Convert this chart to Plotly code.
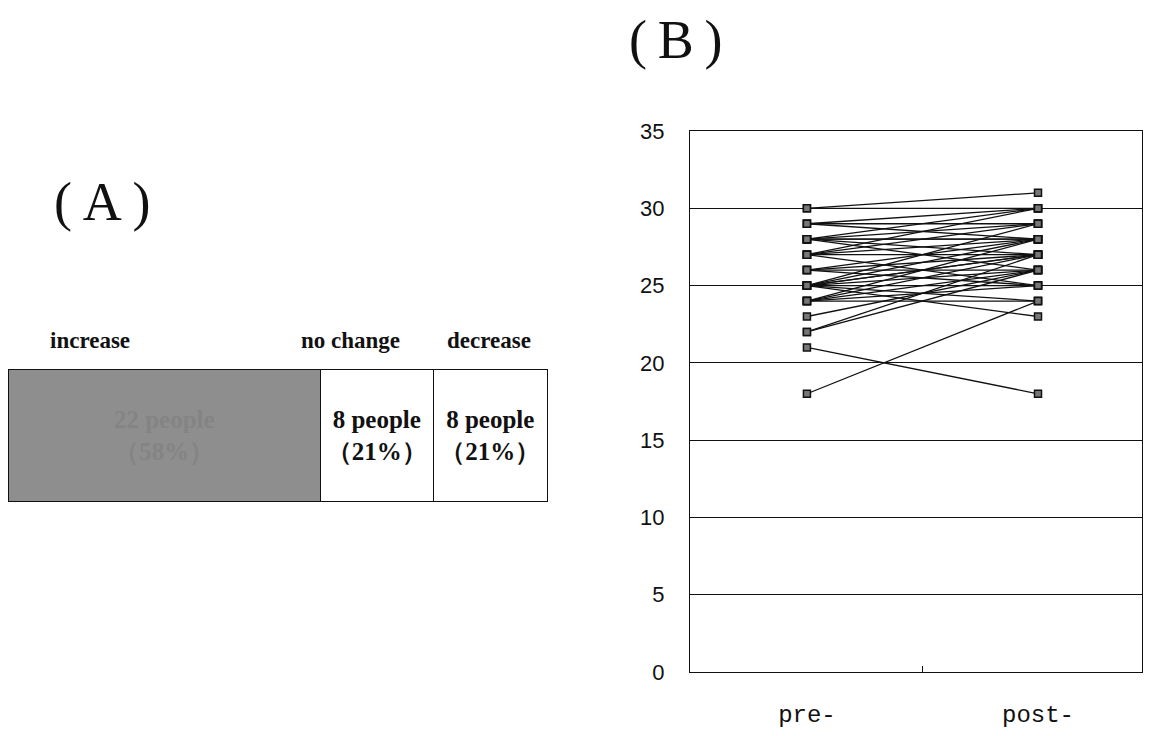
import plotly.graph_objects as go

# ---- Panel A data ----
groups = ["increase", "no change", "decrease"]
counts = [22, 8, 8]
percents = [58, 21, 21]

# ---- Panel B data (score per person, pre and post) ----
pre_scores = [30, 30, 29, 29, 29, 28, 28, 28, 28, 28, 28, 27, 27, 27, 27, 27,
              26, 26, 26, 25, 25, 25, 25, 25, 25, 25, 25, 24, 24, 24, 24, 24,
              23, 22, 22, 21, 18, 26]
post_scores = [31, 30, 30, 29, 28, 30, 29, 28, 27, 26, 28, 29, 28, 27, 25, 30,
               28, 27, 26, 27, 28, 26, 25, 23, 24, 29, 27, 26, 27, 25, 24, 28,
               26, 26, 27, 18, 24, 25]
time_labels = ["pre-", "post-"]
y_ticks = [0, 5, 10, 15, 20, 25, 30, 35]

W, H, OFF = 1156, 736, 8  # page body margin offset


def px_x(p):
    return min(1, max(0, (p - OFF) / W))


def px_y(p):
    return min(1, max(0, 1 - (p - OFF) / H))


fig = go.Figure()

# Panel A: stacked horizontal bar
fills = ["#8e8e8e", "#ffffff", "#ffffff"]
text_cols = ["#848484", "#111111", "#111111"]
for g, c, p, f, tc in zip(groups, counts, percents, fills, text_cols):
    fig.add_trace(go.Bar(
        x=[c], y=[0], orientation="h", width=1,
        marker=dict(color=f, line=dict(color="#111111", width=1.5)),
        text=[f"<b>{c} people<br>（{p}%）</b>"], textposition="inside",
        insidetextanchor="middle",
        textfont=dict(family="Liberation Serif", size=25, color=tc),
        xaxis="x2", yaxis="y2", showlegend=False, hoverinfo="skip", name=g,
    ))

# Panel B: paired lines
lx, ly = [], []
for a, b in zip(pre_scores, post_scores):
    lx += [0, 1, None]
    ly += [a, b, None]
fig.add_trace(go.Scatter(x=lx, y=ly, mode="lines",
                         line=dict(color="#111111", width=1.3),
                         showlegend=False, hoverinfo="skip"))
mx = [0] * len(pre_scores) + [1] * len(post_scores)
my = pre_scores + post_scores
fig.add_trace(go.Scatter(x=mx, y=my, mode="markers",
                         marker=dict(symbol="square", size=7, color="#777777",
                                     line=dict(color="#111111", width=1.5)),
                         showlegend=False, hoverinfo="skip"))

fig.update_layout(
    width=W, height=H,
    margin=dict(l=0, r=0, t=0, b=0, autoexpand=False),
    paper_bgcolor="white", plot_bgcolor="white",
    barmode="stack", bargap=0,
    xaxis=dict(domain=[px_x(690), px_x(1142)], range=[-0.506, 1.45],
               tickvals=[0, 1], ticktext=time_labels, ticks="",
               showgrid=False, zeroline=False, automargin=False,
               showline=True, linecolor="#111111", linewidth=1, mirror=True,
               tickfont=dict(family="Liberation Mono", size=24, color="#111111"),
               ticklabelstandoff=20,
               minor=dict(tickvals=[0.5], ticks="inside", ticklen=6,
                          tickcolor="#111111", showgrid=False)),
    yaxis=dict(domain=[px_y(672), px_y(131)], range=[0, 35],
               tickvals=y_ticks, ticks="", showgrid=True, automargin=False,
               gridcolor="#111111", gridwidth=1, zeroline=False,
               showline=True, linecolor="#111111", linewidth=1, mirror=True,
               tickfont=dict(family="Liberation Sans", size=22, color="#111111"),
               ticklabelstandoff=20),
    xaxis2=dict(domain=[px_x(8), px_x(550)], range=[-0.08, sum(counts) + 0.15],
                visible=False, anchor="y2", automargin=False),
    yaxis2=dict(domain=[px_y(504), px_y(368)], range=[-0.515, 0.515],
                visible=False, anchor="x2", automargin=False),
    font=dict(family="Liberation Serif", color="#111111"),
)

annots = [
    dict(text="(\u2009A\u2009)", x=102, y=202, size=54),
    dict(text="(\u2009B\u2009)", x=676, y=40, size=54),
    dict(text="<b>increase</b>", x=90, y=340, size=23),
    dict(text="<b>no change</b>", x=350, y=340, size=23),
    dict(text="<b>decrease</b>", x=489, y=340, size=23),
]
for a in annots:
    fig.add_annotation(text=a["text"], x=px_x(a["x"]), y=px_y(a["y"]),
                       xref="paper", yref="paper", showarrow=False,
                       xanchor="center", yanchor="middle",
                       font=dict(family="Liberation Serif", size=a["size"],
                                 color="#111111"))

fig.write_html("out.html")
